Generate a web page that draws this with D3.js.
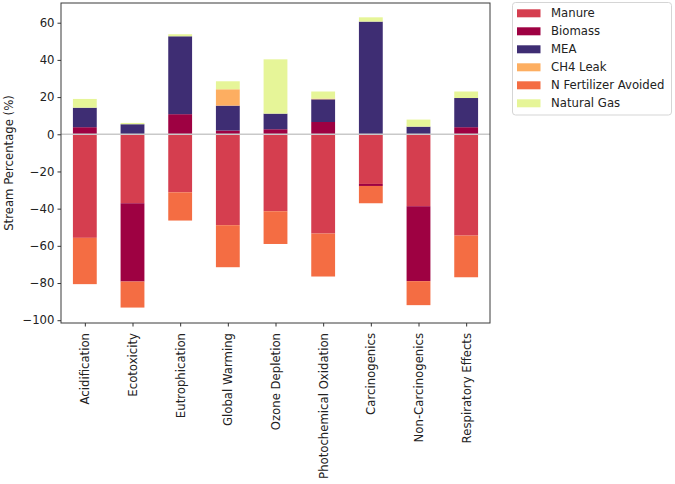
<!DOCTYPE html>
<html>
<head>
<meta charset="utf-8">
<script src="https://cdn.jsdelivr.net/npm/d3@7"></script>
<style>
  body { margin: 0; background: #fff; }
  svg { display: block; font-family: "DejaVu Sans", sans-serif; }
</style>
</head>
<body>
<svg id="chart" width="675" height="484"></svg>
<script>
const categories = ["Acidification", "Ecotoxicity", "Eutrophication", "Global Warming", "Ozone Depletion",
  "Photochemical Oxidation", "Carcinogenics", "Non-Carcinogenics", "Respiratory Effects"];
const seriesNames = ["Manure", "Biomass", "MEA", "CH4 Leak", "N Fertilizer Avoided", "Natural Gas"];
const manure      = [-55.7, -37.1, -31.2, -48.9, -41.4, -53.4, -26.7, -38.7, -54.5];
const biomass     = [3.8, -42.1, 10.8, 2.0, 2.7, 6.6, -1.1, -40.3, 3.8];
const mea         = [10.5, 5.4, 41.9, 13.4, 8.4, 12.2, 60.6, 4.1, 15.7];
const ch4Leak     = [0, 0, 0, 8.8, 0, 0.4, 0, 0, 0];
const nFertilizer = [-24.9, -14.0, -15.2, -22.6, -17.6, -23.1, -9.3, -12.9, -22.4];
const naturalGas  = [4.7, 0.7, 1.1, 4.3, 29.2, 3.8, 2.3, 3.8, 3.5];
const colors = ["#d53e4f", "#9e0142", "#3e2d73", "#fdae61", "#f46d43", "#e6f598"];
const yTicks = [-100, -80, -60, -40, -20, 0, 20, 40, 60];
const yLabel = "Stream Percentage (%)";

const seriesValues = [manure, biomass, mea, ch4Leak, nFertilizer, naturalGas];

const svg = d3.select("#chart");
const pLeft = 61, pRight = 490, pTop = 3, pBottom = 323;

const x = d3.scaleLinear().domain([-0.5, categories.length - 0.5]).range([pLeft, pRight]);
const y = d3.scaleLinear().domain([-101.5, 70.6]).range([pBottom, pTop]);
const barW = x(0.5) - x(0);

// stacked segments (positive and negative stacked separately, like pandas)
const segs = [];
categories.forEach((c, i) => {
  let pos = 0, neg = 0;
  seriesValues.forEach((vals, s) => {
    const v = vals[i];
    if (v >= 0) { segs.push({i, s, y0: pos, y1: pos + v}); pos += v; }
    else { segs.push({i, s, y0: neg, y1: neg + v}); neg += v; }
  });
});

svg.append("g").selectAll("rect").data(segs.filter(d => d.y1 !== d.y0)).join("rect")
  .attr("x", d => x(d.i) - barW / 2)
  .attr("width", barW)
  .attr("y", d => y(Math.max(d.y0, d.y1)))
  .attr("height", d => Math.abs(y(d.y0) - y(d.y1)))
  .attr("fill", d => colors[d.s]);

// zero line
svg.append("line")
  .attr("x1", pLeft).attr("x2", pRight)
  .attr("y1", y(0)).attr("y2", y(0))
  .attr("stroke", "#c9c9c9").attr("stroke-width", 1.5);

// frame
svg.append("rect")
  .attr("x", pLeft).attr("y", pTop)
  .attr("width", pRight - pLeft).attr("height", pBottom - pTop)
  .attr("fill", "none").attr("stroke", "#3a3a3a").attr("stroke-width", 1);

// y axis
const yAxis = svg.append("g").attr("transform", `translate(${pLeft},0)`)
  .call(d3.axisLeft(y).tickValues(yTicks).tickSize(3.5).tickPadding(3)
    .tickFormat(d => d < 0 ? "\u2212" + Math.abs(d) : d));
yAxis.select(".domain").remove();
yAxis.selectAll("line").attr("stroke", "#333");
yAxis.selectAll("text").attr("font-size", "11.7px").attr("fill", "#222")
  .attr("font-family", "DejaVu Sans, sans-serif");

// x axis
const xAxis = svg.append("g").attr("transform", `translate(0,${pBottom})`)
  .call(d3.axisBottom(x).tickValues(d3.range(categories.length)).tickSize(3.5).tickFormat(d => categories[d]));
xAxis.select(".domain").remove();
xAxis.selectAll("line").attr("stroke", "#333");
xAxis.selectAll("text")
  .attr("font-size", "11.7px").attr("fill", "#222")
  .attr("font-family", "DejaVu Sans, sans-serif")
  .attr("transform", "rotate(-90)")
  .attr("text-anchor", "end")
  .attr("x", -10).attr("y", 0).attr("dy", "0.35em");

// y label
svg.append("text")
  .attr("transform", `translate(9,${(pTop + pBottom) / 2}) rotate(-90)`)
  .attr("text-anchor", "middle")
  .attr("dy", "0.35em")
  .attr("font-size", "11.7px").attr("fill", "#222")
  .text(yLabel);

// legend
const lg = svg.append("g");
lg.append("rect")
  .attr("x", 512.5).attr("y", 2.5).attr("width", 159).attr("height", 112.5)
  .attr("rx", 3).attr("fill", "#fff").attr("stroke", "#d5d5d5").attr("stroke-width", 1);
seriesNames.forEach((n, k) => {
  const cy = 13.3 + k * 18;
  lg.append("rect").attr("x", 517).attr("y", cy - 4).attr("width", 23.5).attr("height", 8)
    .attr("fill", colors[k]);
  lg.append("text").attr("x", 551).attr("y", cy).attr("dy", "0.35em")
    .attr("font-size", "11.7px").attr("fill", "#222").text(n);
});
</script>
</body>
</html>
